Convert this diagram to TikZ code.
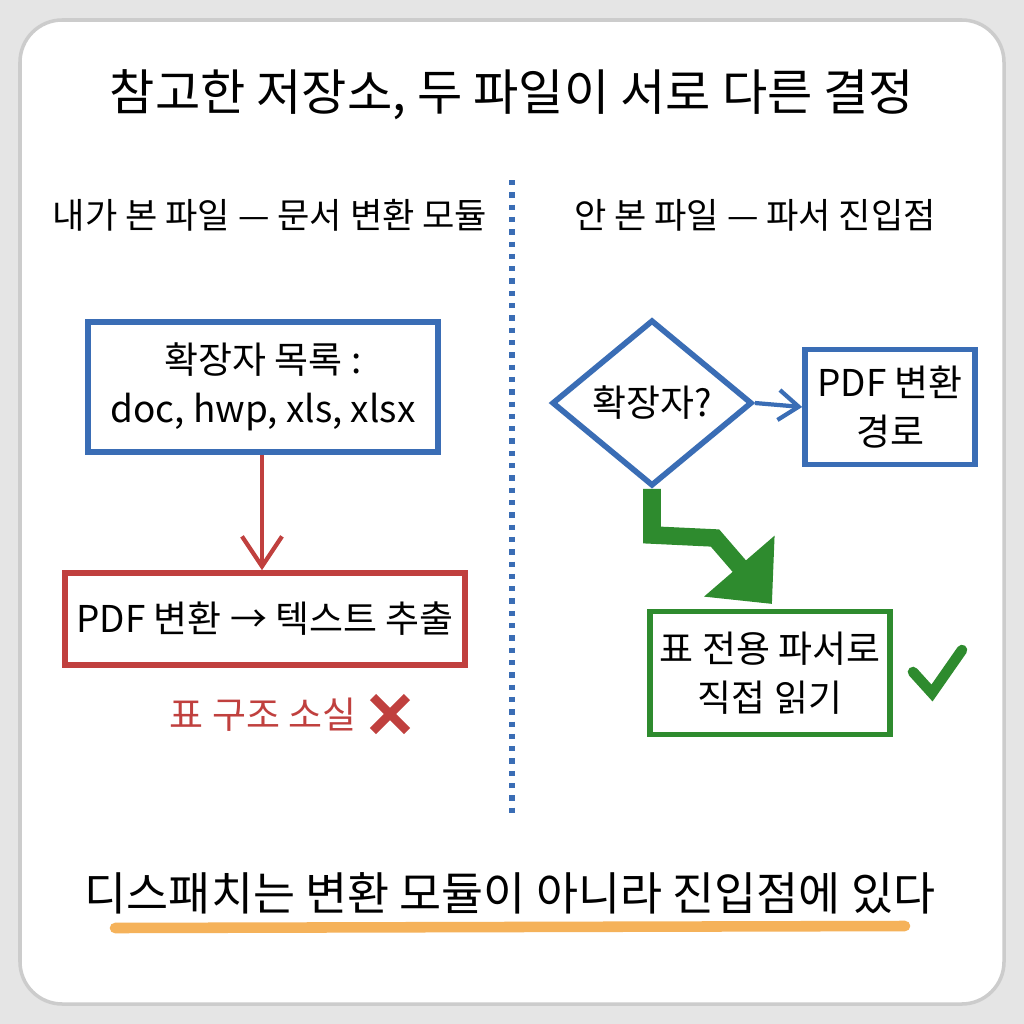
\documentclass[tikz,border=0pt]{standalone}
\usepackage{fontspec}
\setmainfont{Noto Sans CJK KR}
\usetikzlibrary{shapes.geometric}
\usetikzlibrary{positioning}
\usetikzlibrary{arrows.meta}
\definecolor{boxblue}{HTML}{3A6DB5}
\definecolor{boxred}{HTML}{C0403E}
\definecolor{boxgreen}{HTML}{2E8B2E}
\definecolor{hlorange}{HTML}{F5B25A}
\tikzset{
    bluebox/.style = {draw=boxblue, line width=1.6pt, fill=white, align=center, inner sep=0pt, font=\fontsize{10.5}{14}\selectfont},
    redbox/.style = {draw=boxred, line width=1.6pt, fill=white, align=center, inner sep=0pt, font=\fontsize{10.5}{14}\selectfont},
    greenbox/.style = {draw=boxgreen, line width=1.6pt, fill=white, align=center, inner sep=0pt, font=\fontsize{10.5}{14}\selectfont},
    subhead/.style = {font=\fontsize{10}{13}\selectfont},
    edger/.style = {-{Straight Barb[length=3mm,width=4mm]}, line width=1.2pt, boxred},
    edgeb/.style = {-{Straight Barb[length=2mm,width=3mm]}, line width=1.2pt, boxblue}
}
\begin{document}
\begin{tikzpicture}[x=0.01cm,y=-0.01cm]
  \useasboundingbox (0,0) rectangle (1024,1024);
  \fill[gray!20] (0,0) rectangle (1024,1024);
  \fill[white, draw=gray!40, line width=1pt, rounded corners=12] (20,20) rectangle (1004,1004);
  % title
  \node (title) at (512,95) {\fontsize{14}{18}\selectfont 참고한 저장소, 두 파일이 서로 다른 결정};
  \node[subhead] (lhead) at (270,215) {내가 본 파일 — 문서 변환 모듈};
  \node[subhead] (rhead) at (755,215) {안 본 파일 — 파서 진입점};
  \draw[boxblue, line width=1.5pt, dotted] (512,180) -- (512,820);
  % left side
  \node[bluebox, minimum width=3.5cm, minimum height=1.3cm] (ext) at (263,387) {확장자 목록 :\\doc, hwp, xls, xlsx};
  \node[redbox, minimum width=4.0cm, minimum height=0.92cm] (pdf) at (265,619) {PDF 변환 → 텍스트 추출};
  \draw[edger] (ext.south -| 262,0) -- (pdf.north -| 262,0);
  \node[text=boxred, font=\fontsize{10.5}{14}\selectfont] (loss) at (263,715) {표 구조 소실};
  \draw[boxred, line width=2.5pt] (373,697) -- (407,731) (407,697) -- (373,731);
  % right side
  \node[diamond, draw=boxblue, line width=1.6pt, aspect=1.2, minimum width=2cm, minimum height=1.66cm, inner sep=0pt, font=\fontsize{10.5}{14}\selectfont] (q) at (652,403) {확장자?};
  \node[bluebox, minimum width=1.7cm, minimum height=1.15cm] (path) at (890,407) {PDF 변환\\경로};
  \draw[edgeb] (q.east) -- (path.west);
  \node[greenbox, minimum width=2.4cm, minimum height=1.23cm] (tab) at (770,673) {표 전용 파서로\\직접 읽기};
  \coordinate (b1) at (652,535);
  \coordinate (b2) at (715,538);
  \draw[boxgreen, line width=5pt, -{Triangle[length=5mm,width=9mm]}] (q.south) -- (b1) -- (b2) -- (772,604);
  \draw[boxgreen, line width=3pt, line cap=round] (913,672) -- (932,693) -- (962,650);
  % bottom
  \draw[hlorange, line width=3pt, line cap=round] (115,928) -- (905,926);
  \node (msg) at (510,893) {\fontsize{13}{17}\selectfont 디스패치는 변환 모듈이 아니라 진입점에 있다};
\end{tikzpicture}
\end{document}
